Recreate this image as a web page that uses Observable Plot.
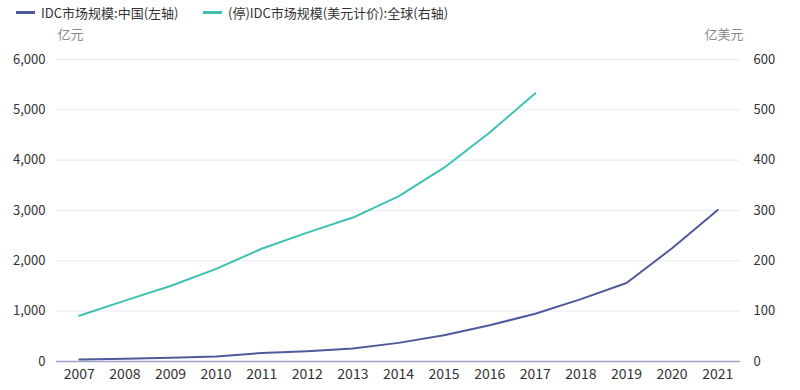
<!DOCTYPE html>
<html><head><meta charset="utf-8">
<script src="https://cdn.jsdelivr.net/npm/d3@7"></script>
<script src="https://cdn.jsdelivr.net/npm/@observablehq/plot@0.6"></script>
<style>
body{margin:0;background:#fff;font-family:"Noto Sans CJK SC","Noto Sans",sans-serif;}
#legend{height:24px;position:relative;font-size:13px;color:#333;white-space:nowrap;}
.item{display:flex;align-items:center;position:absolute;top:0;height:24px;}
.sw{display:inline-block;width:19px;height:3px;margin-right:6px;}
#chart svg{display:block;}
</style></head>
<body>
<div id="legend"></div>
<div id="chart"></div>
<script>
const years = ["2007","2008","2009","2010","2011","2012","2013","2014","2015","2016","2017","2018","2019","2020","2021"];
const chinaValues = [38, 55, 75, 100, 170, 205, 260, 370, 520, 720, 950, 1240, 1560, 2250, 3010];
const globalYears = ["2007","2008","2009","2010","2011","2012","2013","2014","2015","2016","2017"];
const globalValues = [91, 121, 150, 184, 224, 256, 286, 328, 385, 455, 533];
const leftTicks = [0, 1000, 2000, 3000, 4000, 5000, 6000];
const seriesNames = ["IDC市场规模:中国(左轴)", "(停)IDC市场规模(美元计价):全球(右轴)"];
const seriesColors = ["#4f5a9c", "#3dc1b2"];
const unitLeft = "亿元", unitRight = "亿美元";

// legend
const lg = document.getElementById("legend");
const legendX = [16, 203];
seriesNames.forEach((n, i) => {
  const d = document.createElement("div");
  d.className = "item";
  d.style.left = legendX[i] + "px";
  d.innerHTML = `<span class="sw" style="background:${seriesColors[i]}"></span><span>${n}</span>`;
  lg.appendChild(d);
});

const china = years.map((y, i) => ({year: y, v: chinaValues[i]}));
const glob = globalYears.map((y, i) => ({year: y, v: globalValues[i] * 10}));

const chart = Plot.plot({
  width: 800, height: 366,
  marginLeft: 56, marginRight: 60, marginTop: 35, marginBottom: 29,
  style: {fontFamily: '"Noto Sans CJK SC","Noto Sans",sans-serif', fontSize: "13px", color: "#333", background: "#fff"},
  x: {type: "point", domain: years, padding: 0.5, round: false},
  y: {domain: [0, 6000]},
  marks: [
    Plot.gridY(leftTicks, {stroke: "#e9ebf3", strokeOpacity: 1}),
    Plot.ruleY([0], {stroke: "#9ea4c9", strokeWidth: 1.5}),
    Plot.axisY(leftTicks, {anchor: "left", tickSize: 0, tickPadding: 11, tickFormat: d3.format(","), label: null, fill: "#333", fontSize: 13}),
    Plot.axisY(leftTicks, {anchor: "right", tickSize: 0, tickPadding: 13, tickFormat: d => d / 10, label: null, fill: "#333", fontSize: 13}),
    Plot.axisX({tickSize: 0, tickPadding: 8, label: null, fill: "#333", fontSize: 14}),
    Plot.text([unitLeft], {frameAnchor: "top-left", textAnchor: "start", lineAnchor: "middle", dx: 1, dy: -25, fill: "#888", fontSize: 13}),
    Plot.text([unitRight], {frameAnchor: "top-right", textAnchor: "end", lineAnchor: "middle", dx: 3, dy: -25, fill: "#888", fontSize: 13}),
    Plot.line(glob, {x: "year", y: "v", stroke: seriesColors[1], strokeWidth: 2}),
    Plot.line(china, {x: "year", y: "v", stroke: seriesColors[0], strokeWidth: 2})
  ]
});
document.getElementById("chart").appendChild(chart);
</script>
</body></html>
